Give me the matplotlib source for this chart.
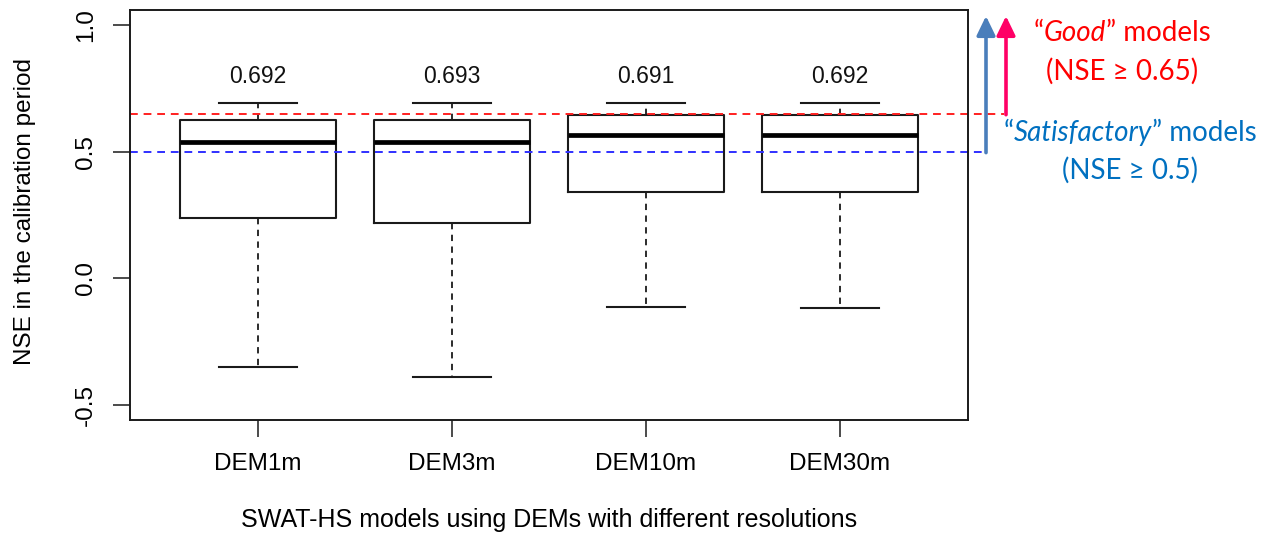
import matplotlib
matplotlib.use("Agg")
import matplotlib.pyplot as plt
from matplotlib.offsetbox import TextArea, HPacker, AnnotationBbox

# ---- data ----
categories = ["DEM1m", "DEM3m", "DEM10m", "DEM30m"]
whisker_low = [-0.352, -0.391, -0.113, -0.120]
q1 = [0.238, 0.219, 0.340, 0.340]
median = [0.540, 0.540, 0.566, 0.566]
q3 = [0.627, 0.627, 0.644, 0.644]
whisker_high = [0.692, 0.693, 0.691, 0.692]
max_labels = ["0.692", "0.693", "0.691", "0.692"]
good_threshold = 0.65
satisfactory_threshold = 0.5
yticks = [-0.5, 0.0, 0.5, 1.0]

W, H = 1274, 544
fig = plt.figure(figsize=(W / 100, H / 100), dpi=100)
ax = fig.add_axes([130 / W, (H - 419.7) / H, 838 / W, 409.7 / H])

plt.rcParams["font.family"] = ["Liberation Sans", "DejaVu Sans"]
FS = 17.5

positions = list(range(1, len(categories) + 1))
stats = []
for i, c in enumerate(categories):
    stats.append(dict(label=c, whislo=whisker_low[i], q1=q1[i], med=median[i],
                      q3=q3[i], whishi=whisker_high[i], fliers=[]))

dark = "#1a1a1a"
ax.bxp(stats, positions=positions, widths=0.8, capwidths=0.4, showfliers=False,
       boxprops=dict(color=dark, linewidth=1.5),
       medianprops=dict(color="black", linewidth=3.4, solid_capstyle="butt"),
       whiskerprops=dict(color=dark, linewidth=1.3, linestyle=(0, (3.5, 3))),
       capprops=dict(color=dark, linewidth=1.5))

ax.set_xlim(0.34, 4.66)
ax.set_ylim(-0.56, 1.06)
ax.set_yticks(yticks)
ax.set_yticklabels([f"{v:.1f}" for v in yticks], rotation=90, va="center",
                   fontsize=FS, fontfamily="Liberation Sans")
ax.set_xticks(positions)
ax.set_xticklabels(categories, fontsize=FS, fontfamily="Liberation Sans")
ax.tick_params(axis="both", length=12, width=1.1, color=dark)
ax.tick_params(axis="y", pad=12)
ax.tick_params(axis="x", pad=12)
for s in ax.spines.values():
    s.set_color(dark)
    s.set_linewidth(1.4)

for p, lab in zip(positions, max_labels):
    ax.text(p, 0.796, lab, ha="center", va="center", fontsize=16.5,
            fontfamily="Liberation Sans", color="#111111")

# threshold lines extended outside the axes up to the arrows
ax.axhline(good_threshold, xmin=0, xmax=(1004 - 130) / 838, color="#ff2020",
           linewidth=1.4, linestyle=(0, (4, 3)), clip_on=False)
ax.axhline(satisfactory_threshold, xmin=0, xmax=(985 - 130) / 838, color="#3030ff",
           linewidth=1.4, linestyle=(0, (4, 3)), clip_on=False)

ax.set_ylabel("NSE in the calibration period", fontsize=FS, fontfamily="Liberation Sans")
ax.yaxis.set_label_coords((36 - 130) / 838, 0.507)
ax.set_xlabel("SWAT-HS models using DEMs with different resolutions", fontsize=18,
              fontfamily="Liberation Sans")
ax.xaxis.set_label_coords(0.5, (419.7 - 508) / 409.7)

# arrows (figure pixel coordinates, origin bottom-left)
def to_fig_y(v):
    return (H - 419.7) + (v + 0.56) / 1.62 * 409.7

arrow_style = "-|>,head_width=0.28,head_length=0.58"
ax.annotate("", xy=(986, H - 16), xytext=(986, to_fig_y(satisfactory_threshold) - 1),
            xycoords="figure pixels", textcoords="figure pixels", annotation_clip=False,
            arrowprops=dict(arrowstyle=arrow_style,
                            color="#4a7ebb", lw=2.6, mutation_scale=20, shrinkA=0, shrinkB=0))
ax.annotate("", xy=(1006, H - 16), xytext=(1006, to_fig_y(good_threshold) - 1),
            xycoords="figure pixels", textcoords="figure pixels", annotation_clip=False,
            arrowprops=dict(arrowstyle=arrow_style,
                            color="#ff0066", lw=2.6, mutation_scale=20, shrinkA=0, shrinkB=0))

RF = ["Lato", "DejaVu Sans"]
RS = 20

def rich(parts, color, x, y):
    boxes = [TextArea(t, textprops=dict(color=color, fontsize=RS, family=RF,
                                        style=("italic" if it else "normal")))
             for t, it in parts]
    pack = HPacker(children=boxes, pad=0, sep=0, align="baseline")
    ab = AnnotationBbox(pack, (x, H - y), xycoords="figure pixels", frameon=False,
                        box_alignment=(0.5, 0.5), pad=0, annotation_clip=False)
    fig.add_artist(ab)

red_txt = "#ff0000"
blue_txt = "#0070c0"
rich([("\u201c", False), ("Good", True), ("\u201d models", False)], red_txt, 1122, 33)
rich([("(NSE \u2265 0.65)", False)], red_txt, 1122, 71)
rich([("\u201c", False), ("Satisfactory", True), ("\u201d models", False)], blue_txt, 1130, 133)
rich([("(NSE \u2265 0.5)", False)], blue_txt, 1130, 170)

fig.savefig("out.png", dpi=100)
